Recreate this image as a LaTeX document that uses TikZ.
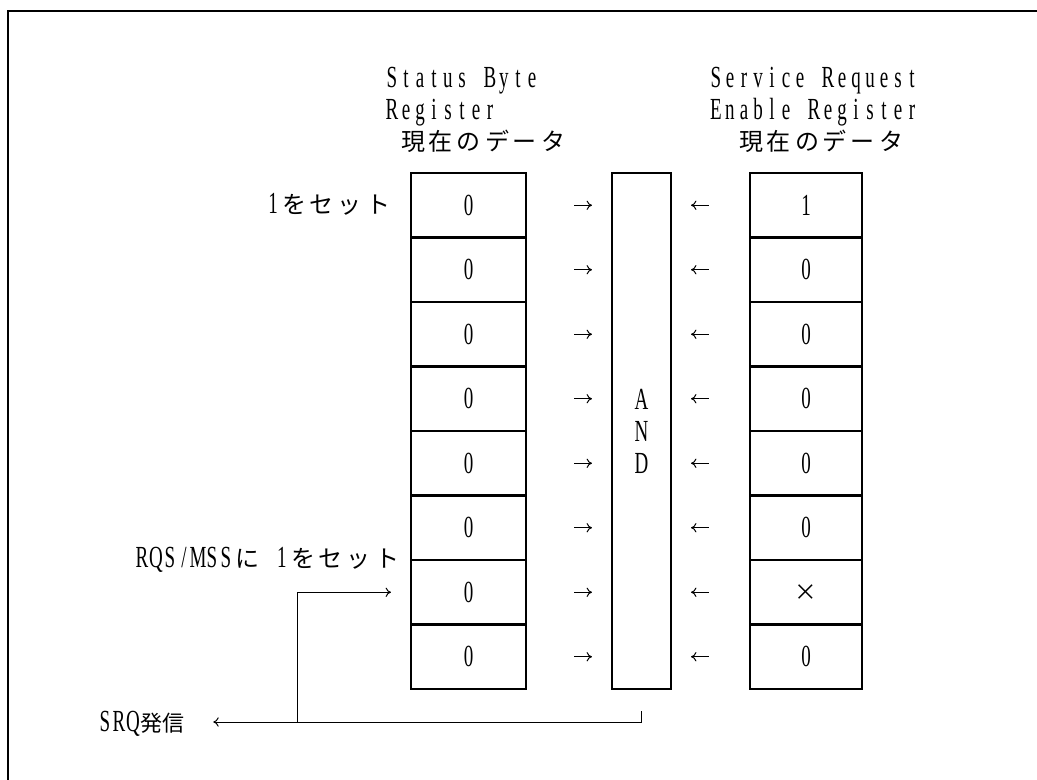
\documentclass[tikz,border=0pt]{standalone}
\usepackage{fontspec}
\newfontfamily\latf[FakeStretch=0.62]{Liberation Serif}
\newfontfamily\jpf{Noto Sans CJK JP}
\usetikzlibrary{arrows.meta,calc}
\makeatletter
\def\cells#1{\@cells#1\@nil}
\def\@cells#1{\ifx#1\@nil\else\@onecell{#1}\expandafter\@cells\fi}
\def\@onecell#1{\ifnum`#1=215\relax\makebox[10.5pt]{\jpf\fontsize{17pt}{24pt}\selectfont#1}\else\ifnum`#1<256\relax\makebox[10.5pt]{\latf\fontsize{23pt}{24pt}\selectfont#1}\else\makebox[21pt]{\jpf\fontsize{18pt}{24pt}\selectfont#1}\fi\fi}
\def\xcells#1{\expandafter\cells\expandafter{#1}}
\newcommand\jptight[1]{{\jpf\fontsize{16.5pt}{24pt}\selectfont#1}}
\makeatother
\tikzset{
  reg/.style={draw, line width=1.6pt, minimum width=86.25pt, minimum height=48.375pt, inner sep=0pt},
  sre/.style={draw, line width=1.6pt, minimum width=84pt, minimum height=48.375pt, inner sep=0pt},
  andbox/.style={draw, line width=1.6pt, minimum width=44.25pt, minimum height=387pt, inner sep=0pt, align=center, font=\fontsize{10pt}{24pt}\selectfont},
  lbl/.style={anchor=base west, inner sep=0pt, outer sep=0pt},
  arr/.style={-{To[length=4pt,width=7pt]}, line width=0.75pt},
  frame/.style={line width=1.2pt}
}
\begin{document}
\begin{tikzpicture}[x=0.75pt,y=-0.75pt]
\useasboundingbox (0,0) rectangle (1037,780);
\draw[frame] (8,780) -- (8,11) -- (1037,11);
% headings
\node[lbl] (h1) at (385,88) {\cells{Status~Byte}};
\node[lbl] (h2) at (385,120) {\cells{Register}};
\node[lbl] (h3) at (385,151) {\cells{~現在のデータ}};
\node[lbl] (h4) at (709,88) {\cells{Service~Request}};
\node[lbl] (h5) at (709,120) {\cells{Enable~Register}};
\node[lbl] (h6) at (709,151) {\cells{~~現在のデータ}};
% AND box
\node[andbox] (and) at (641.5,431) {\cells{A}\\\cells{N}\\\cells{D}};
% registers
\foreach \i/\sv/\ev in {1/0/1,2/0/0,3/0/0,4/0/0,5/0/0,6/0/0,7/0/×,8/0/0}{
  \node[reg] (s\i) at (468.5,{173+64.5*(\i-0.5)}) {\xcells{\sv}};
  \node[sre] (e\i) at (806,{173+64.5*(\i-0.5)}) {\xcells{\ev}};
  \draw[arr, shorten <=35.25pt, shorten >=14.25pt] (s\i.east) -- (s\i.east -| and.west);
  \draw[arr, shorten <=30pt, shorten >=14.25pt] (e\i.west) -- (e\i.west -| and.east);
}
% left labels
\node[lbl] (set1) at (266,214) {\cells{1をセット}};
\node[lbl] (set2) at (135,567) {\cells{RQS/MSSに~1をセット}};
\node[lbl] (srq) at (98,731) {\cells{SRQ}\jptight{発信}};
% SRQ path
\coordinate (t) at ($(and.south)+(0,21)$);
\coordinate (j) at (297,722);
\draw[arr, shorten >=22pt] (t) |- (srq.east |- j);
\draw[arr, shorten >=14.25pt] (j) |- (s7.west);
\end{tikzpicture}
\end{document}
